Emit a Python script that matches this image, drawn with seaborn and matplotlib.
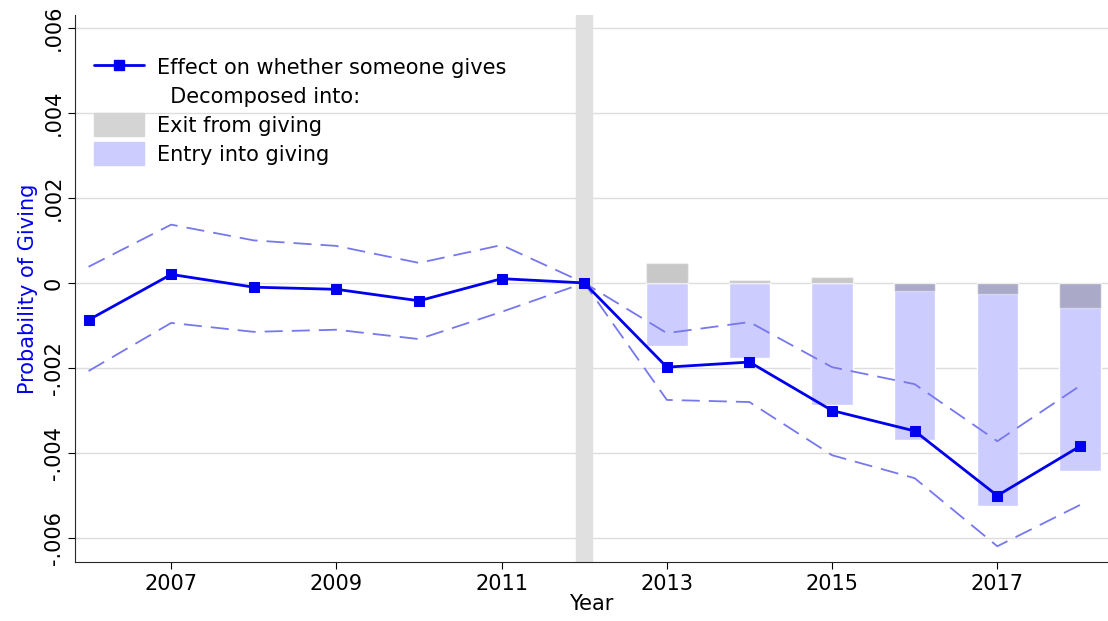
import numpy as np
import pandas as pd
import matplotlib
matplotlib.use("Agg")
import matplotlib.pyplot as plt
import seaborn as sns
from matplotlib.patches import Patch
from matplotlib.lines import Line2D

years = list(range(2006, 2019))
effect = [-0.00087, 0.0002, -0.0001, -0.00015, -0.00042, 0.0001, 0.0,
          -0.00198, -0.00186, -0.0030, -0.00348, -0.0050, -0.00384]
ci_upper = [0.00038, 0.00137, 0.0010, 0.00087, 0.00047, 0.00089, 0.0,
            -0.00118, -0.00092, -0.00198, -0.00238, -0.00372, -0.00242]
ci_lower = [-0.00207, -0.00094, -0.00115, -0.0011, -0.00132, -0.00068, 0.0,
            -0.00275, -0.0028, -0.00405, -0.00459, -0.00619, -0.00522]
bar_years = [2013, 2014, 2015, 2016, 2017, 2018]
exit_vals = [0.00047, 0.00007, 0.00014, -0.0002, -0.00026, -0.0006]
entry_vals = [-0.00148, -0.00176, -0.00287, -0.0037, -0.00525, -0.00443]

df = pd.DataFrame({"year": years, "effect": effect, "hi": ci_upper, "lo": ci_lower})

sns.set_style("white")
plt.rcParams["font.family"] = ["DejaVu Sans"]
plt.rcParams["text.color"] = "black"
plt.rcParams["xtick.color"] = "black"
plt.rcParams["ytick.color"] = "black"
plt.rcParams["axes.labelcolor"] = "black"

fig, ax = plt.subplots(figsize=(11.08, 6.21), dpi=100)
fig.subplots_adjust(left=0.068, right=1.0, top=0.976, bottom=0.095)

ax.yaxis.grid(True, color="#dddddd", lw=1)
ax.set_axisbelow(True)
ax.axvspan(2011.9, 2012.1, color="#e0e0e0", zorder=1)

ax.bar(bar_years, entry_vals, width=0.5, color="#ccccff", zorder=2)
ax.bar(bar_years, exit_vals, width=0.5, color="#777777", alpha=0.4, zorder=3)

sns.lineplot(data=df, x="year", y="hi", ax=ax, color="#7777ee", lw=1.3, dashes=(10, 5), zorder=4)
sns.lineplot(data=df, x="year", y="lo", ax=ax, color="#7777ee", lw=1.3, dashes=(10, 5), zorder=4)
sns.lineplot(data=df, x="year", y="effect", ax=ax, color="#0000ee", lw=2,
             marker="s", markersize=7, markeredgecolor="#0000ee", zorder=5)

ax.set_xlim(2005.84, 2018.34)
ax.set_ylim(-0.00656, 0.0063)
ax.set_xticks([2007, 2009, 2011, 2013, 2015, 2017])
yt = [-0.006, -0.004, -0.002, 0, 0.002, 0.004, 0.006]
ax.set_yticks(yt)
ax.set_yticklabels(["-.006", "-.004", "-.002", "0", ".002", ".004", ".006"],
                   rotation=90, va="center")
ax.tick_params(labelsize=15, length=5, left=True, bottom=True)
ax.set_xlabel("Year", fontsize=15, labelpad=0)
ax.set_ylabel("Probability of Giving", fontsize=15, color="#0000ee")
for s in ["top", "right"]:
    ax.spines[s].set_visible(False)

handles = [Line2D([], [], color="#0000ee", lw=2, marker="s", markersize=7),
           Line2D([], [], color="none"),
           Patch(color="#d4d4d4"), Patch(color="#ccccff")]
labels = ["Effect on whether someone gives", "  Decomposed into:",
          "Exit from giving", "Entry into giving"]
ax.legend(handles, labels, loc="upper left", bbox_to_anchor=(0.0, 0.96),
          frameon=False, fontsize=15, handlelength=2.4, handleheight=1.3,
          handletextpad=0.6, labelspacing=0.3)

fig.savefig("out.png")
